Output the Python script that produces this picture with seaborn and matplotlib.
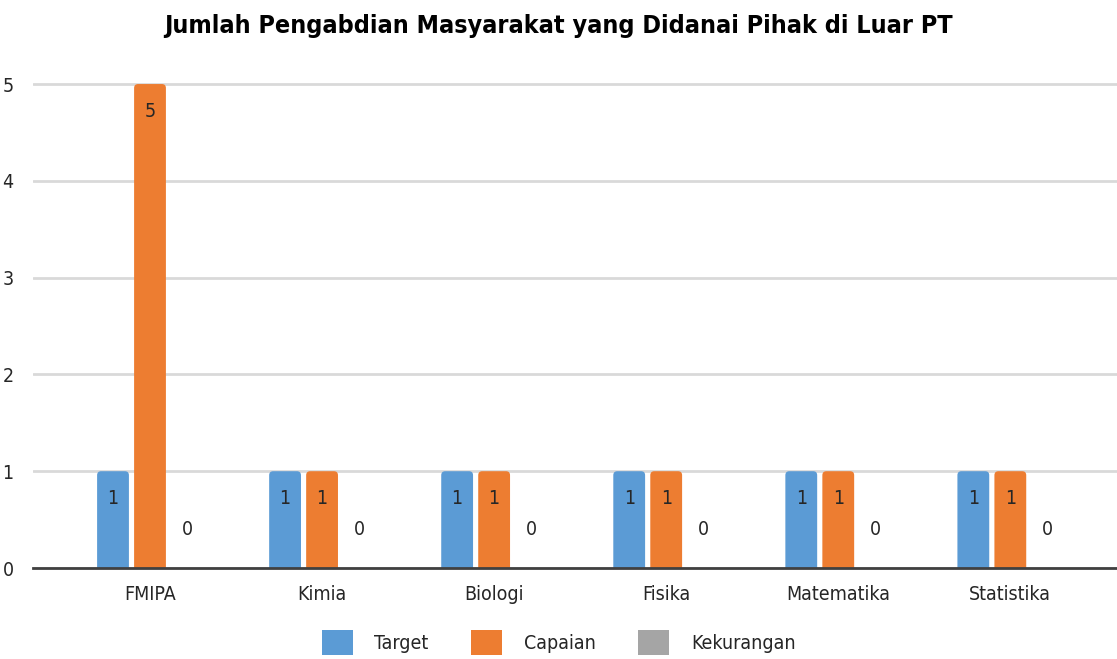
import matplotlib
matplotlib.use("Agg")
import matplotlib.pyplot as plt
from matplotlib.patches import Patch, FancyBboxPatch
import seaborn as sns
import pandas as pd

# Data
categories = ["FMIPA", "Kimia", "Biologi", "Fisika", "Matematika", "Statistika"]
series_names = ["Target", "Capaian", "Kekurangan"]
target = [1, 1, 1, 1, 1, 1]
capaian = [5, 1, 1, 1, 1, 1]
kekurangan = [0, 0, 0, 0, 0, 0]
y_ticks = [0, 1, 2, 3, 4, 5]
title = "Jumlah Pengabdian Masyarakat yang Didanai Pihak di Luar PT"

colors = ["#5B9BD5", "#ED7D31", "#A5A5A5"]

sns.set_theme(style="white")
plt.rcParams["font.family"] = ["DejaVu Sans"]
plt.rcParams["font.stretch"] = "condensed"

rows = []
for name, vals in zip(series_names, [target, capaian, kekurangan]):
    for cat, v in zip(categories, vals):
        rows.append({"Prodi": cat, "Seri": name, "Jumlah": v})
df = pd.DataFrame(rows)

fig = plt.figure(figsize=(11.17, 6.59), dpi=100)
ax = fig.add_axes([33 / 1117, 91 / 659, 1 - 33 / 1117, 513 / 659])

sns.barplot(data=df, x="Prodi", y="Jumlah", hue="Seri", hue_order=series_names,
            order=categories, palette=colors, width=0.645, gap=0.14,
            legend=False, ax=ax, saturation=1)

ax.set_xlim(-0.68, 5.62)
ax.set_ylim(0, 5.3)
ax.set_yticks(y_ticks)
ax.set_xlabel("")
ax.set_ylabel("")
ax.yaxis.grid(True, color="#D9D9D9", linewidth=2)
ax.set_axisbelow(True)
for s in ["top", "right", "left"]:
    ax.spines[s].set_visible(False)
ax.spines["bottom"].set_color("#404040")
ax.spines["bottom"].set_linewidth(2)
ax.spines["bottom"].set_zorder(5)
ax.tick_params(axis="both", length=0, labelsize=14, colors="#262626")
ax.tick_params(axis="y", pad=14)
ax.tick_params(axis="x", pad=12)

# Rounded bar tops; the bottom of each shape sits below the axis and is clipped
x_per_px = (5.62 + 0.68) / (1117 - 33)
y_per_px = 5.3 / 513
radius = 4 * x_per_px
aspect = y_per_px / x_per_px
for container in ax.containers:
    for bar in container:
        h = bar.get_height()
        if h <= 0:
            continue
        bar.set_visible(False)
        ext = 0.1
        rounded = FancyBboxPatch((bar.get_x(), -ext), bar.get_width(), h + ext,
                                 boxstyle=f"round,pad=0,rounding_size={radius}",
                                 mutation_aspect=aspect,
                                 facecolor=bar.get_facecolor(), edgecolor="none",
                                 zorder=bar.get_zorder())
        ax.add_patch(rounded)

# Value labels
for container in ax.containers:
    for bar in container:
        h = bar.get_height()
        xc = bar.get_x() + bar.get_width() / 2
        if h > 0:
            ax.annotate(f"{h:g}", (xc, h), xytext=(0, -20), textcoords="offset points",
                        ha="center", va="center", fontsize=14, color="#262626")
        else:
            ax.annotate(f"{h:g}", (xc, 0), xytext=(0, 28), textcoords="offset points",
                        ha="center", va="center", fontsize=14, color="#262626")

fig.suptitle(title, x=0.5, y=0.978, fontsize=18, fontweight="bold", color="black")

handles = [Patch(facecolor=c, edgecolor="none") for c in colors]
fig.legend(handles, series_names, loc="center", bbox_to_anchor=(0.5, 0.025),
           ncol=3, frameon=False, fontsize=14, handlelength=1.6, handleheight=1.6,
           handletextpad=1.1, columnspacing=2.2)

fig.savefig("out.png", dpi=100)
